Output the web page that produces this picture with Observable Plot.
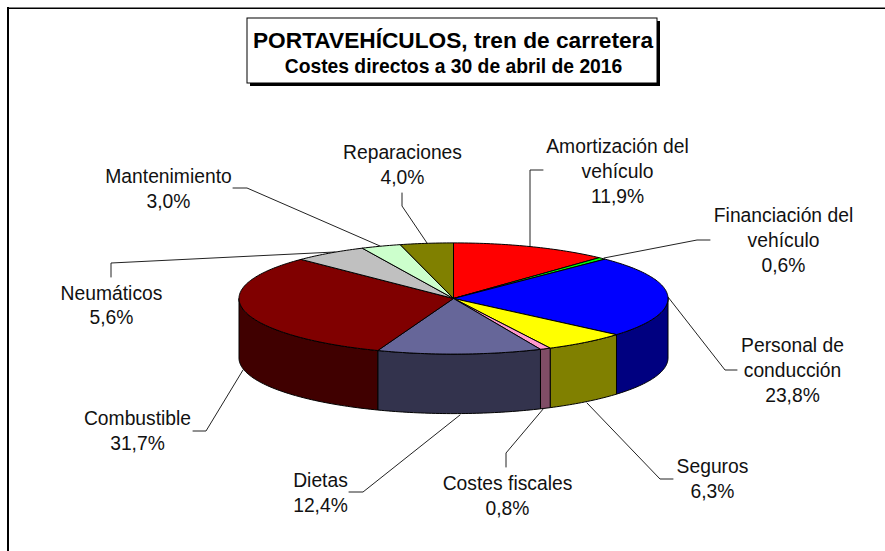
<!DOCTYPE html>
<html lang="es">
<head>
<meta charset="utf-8">
<style>
html,body{margin:0;padding:0;background:#fff;overflow:hidden}
svg{display:block}
</style>
<script src="https://cdn.jsdelivr.net/npm/d3@7"></script>
<script src="https://cdn.jsdelivr.net/npm/@observablehq/plot@0.6"></script>
</head>
<body>
<div id="chart"></div>
<script>
// Chart values
const categories = ["Amortización del\nvehículo","Financiación del\nvehículo","Personal de\nconducción","Seguros","Costes fiscales","Dietas","Combustible","Neumáticos","Mantenimiento","Reparaciones"];
const shares = [11.9,0.6,23.8,6.3,0.8,12.4,31.7,5.6,3.0,4.0];
const topColors = ["#ff0000","#00ff00","#0000ff","#ffff00","#ff99cc","#666699","#800000","#c0c0c0","#ccffcc","#808000"];
const sideColors = ["#800000","#008000","#000080","#808000","#804d66","#33334d","#400000","#606060","#668066","#404000"];
const titleText = "PORTAVEHÍCULOS, tren de carretera";
const subtitleText = "Costes directos a 30 de abril de 2016";

// Layout of labels: x centre, last baseline
const labelX = [617,783,792,712,507,320,137,111,168,402];
const labelY = [202,271,401,497,514,511,449,323.5,207,183];
// Leader polylines from label to pie edge
const leaders = [
  [[543,170],[530,170],[530,247]],
  [[710,240],[697,240],[604,258]],
  [[737,370],[725,370],[668,297]],
  [[673,479],[660,479],[587,403]],
  [[506,467],[506,453],[544,408]],
  [[349,492],[363,492],[460,415]],
  [[193,431],[206,431],[243,370]],
  [[111,277],[111,263],[335,252]],
  [[233,188],[247,188],[380,246]],
  [[402,193],[402,206],[427,243]]
];

// Pie projection
const cx = 453, cy = 298, rx = 214.5, ry = 55.6, depth = 59.5;
const px = t => cx + rx * Math.sin(t);
const py = t => cy - ry * Math.cos(t);
const slices = d3.pie().sort(null).value(d => d)(shares);
const arc = (a, b) => {
  const n = Math.max(2, Math.ceil((b - a) / (Math.PI / 180)));
  return d3.range(n + 1).map(i => a + (b - a) * i / n);
};

const topPts = [], sidePts = [];
slices.forEach((s, i) => {
  const name = categories[i];
  const pts = [[cx, cy], ...arc(s.startAngle, s.endAngle).map(t => [px(t), py(t)]), [cx, cy]];
  pts.forEach(([x, y]) => topPts.push({name, x, y, c: topColors[i]}));
  const a = Math.max(s.startAngle, Math.PI / 2), b = Math.min(s.endAngle, 3 * Math.PI / 2);
  if (b > a) {
    const ts = arc(a, b);
    const poly = [...ts.map(t => [px(t), py(t)]), ...ts.slice().reverse().map(t => [px(t), py(t) + depth])];
    poly.push(poly[0]);
    poly.forEach(([x, y]) => sidePts.push({name, x, y, c: sideColors[i]}));
  }
});
const leaderPts = leaders.flatMap((l, i) => l.map(([x, y]) => ({name: categories[i], x: x - 0.5, y: y - 0.5})));
const labels = categories.map((name, i) => ({
  text: name + "\n" + shares[i].toFixed(1).replace(".", ",") + "%",
  x: labelX[i], y: labelY[i]
}));

const font = "'Liberation Sans', Arial, sans-serif";
const plot = Plot.plot({
  width: 885, height: 551,
  margin: 0,
  x: {domain: [0, 885], range: [0, 885], axis: null},
  y: {domain: [0, 551], range: [0, 551], axis: null},
  color: {type: "identity"},
  style: {background: "#fff", fontFamily: font},
  marks: [
    Plot.ruleX([7.5], {y1: 7, y2: 551, stroke: "#000", strokeWidth: 2}),
    Plot.ruleY([7.75], {x1: 7, x2: 885, stroke: "#000", strokeWidth: 1.5}),
    Plot.line(leaderPts, {x: "x", y: "y", z: "name", stroke: "#222", strokeWidth: 1, curve: "linear"}),
    Plot.line(sidePts, {x: "x", y: "y", z: "name", fill: "c", stroke: "#000", strokeWidth: 1, curve: "linear"}),
    Plot.line(topPts, {x: "x", y: "y", z: "name", fill: "c", stroke: "#000", strokeWidth: 1, curve: "linear"}),
    Plot.rect([0], {x1: 250, x2: 660, y1: 21, y2: 86, fill: "#000"}),
    Plot.rect([0], {x1: 247, x2: 657, y1: 18, y2: 83, fill: "#fff", stroke: "#000", strokeWidth: 1}),
    Plot.text([titleText], {x: 452.5, y: 47, text: d => d, lineAnchor: "bottom", fontSize: 22.7, fontWeight: "bold", fill: "#000"}),
    Plot.text([subtitleText], {x: 453, y: 72, text: d => d, lineAnchor: "bottom", fontSize: 19.3, fontWeight: "bold", fill: "#000"}),
    Plot.text(labels, {x: "x", y: "y", text: "text", lineAnchor: "bottom", lineHeight: 1.27, fontSize: 19.3, fill: "#111"})
  ]
});
document.getElementById("chart").appendChild(plot);
</script>
</body>
</html>
